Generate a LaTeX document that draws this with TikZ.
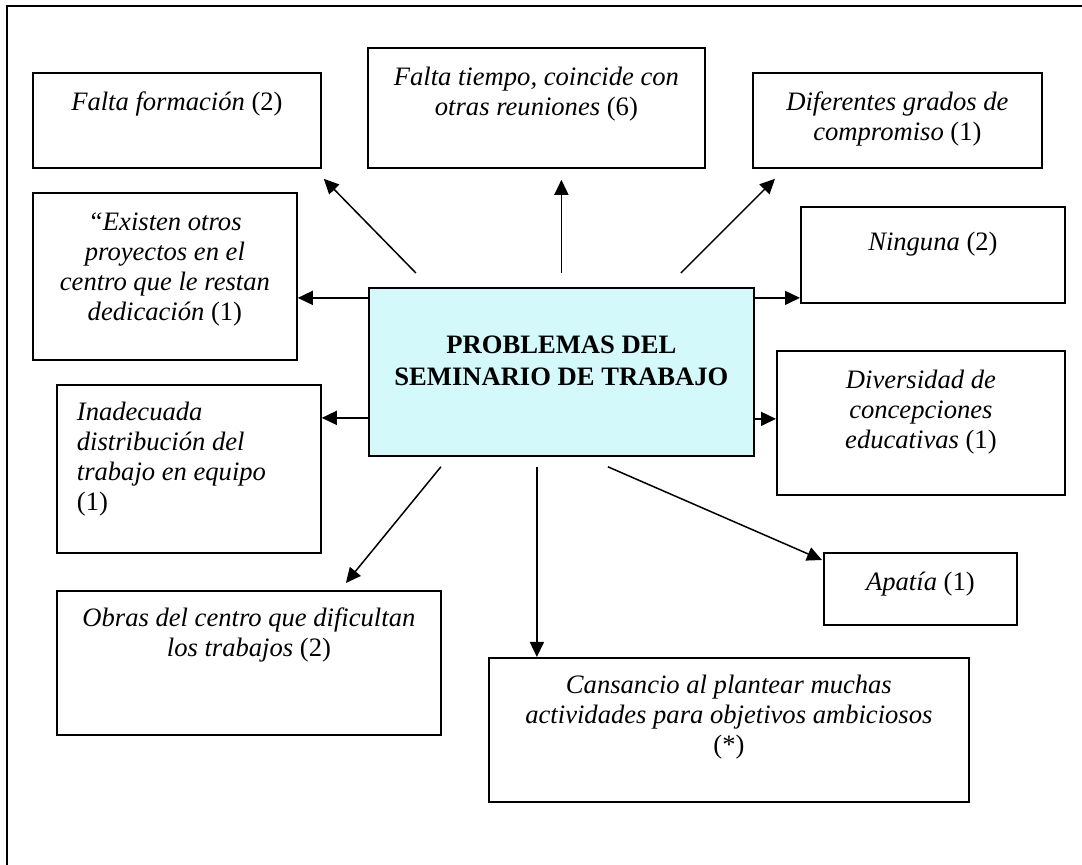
\documentclass[tikz,border=0pt]{standalone}
\usepackage{fontspec}
\setmainfont{Liberation Serif}
\usetikzlibrary{arrows.meta,calc}
\definecolor{hubfill}{RGB}{212,249,251}
\newcommand\bxt[4]{\parbox[t][#2][t]{#1}{\centering\rule{0pt}{#3}#4}}
\newcommand\bxl[4]{\parbox[t][#2][t]{#1}{\raggedright\leftskip=10pt\relax\rule{0pt}{#3}#4}}
\tikzset{
  box/.style={draw=black, line width=0.9pt, inner sep=0pt, anchor=north west, fill=white,
              font=\fontsize{13.3}{15}\selectfont},
  hub/.style={box, fill=hubfill, font=\fontsize{13.3}{16}\selectfont\bfseries},
  arr/.style={line width=0.75pt, -{Triangle[length=7.5pt,width=7pt]}},
  frame/.style={line width=1pt}
}
\begin{document}
\begin{tikzpicture}[x=0.5pt,y=-0.5pt]
\useasboundingbox (0,0) rectangle (1082,865);
% page frame
\coordinate (fb) at (7,865);
\coordinate (ftl) at (7,6);
\coordinate (fr) at (1082,6);
\draw[frame] (fb) -- (ftl) -- (fr);

% boxes
\node[box] (ff) at (32,72)  {\bxt{144pt}{47.5pt}{19pt}{\textit{Falta formación} (2)}};
\node[box] (ft) at (367,47) {\bxt{168.5pt}{60pt}{19pt}{\textit{Falta tiempo, coincide con}\\ \textit{otras reuniones} (6)}};
\node[box] (dg) at (752,72) {\bxt{144.5pt}{47.5pt}{19pt}{\textit{Diferentes grados de}\\ \textit{compromiso} (1)}};
\node[box] (ex) at (32,192) {\bxt{132pt}{83.5pt}{19pt}{\textit{“Existen otros}\\ \textit{proyectos en el}\\ \textit{centro que le restan}\\ \textit{dedicación} (1)}};
\node[box] (ni) at (800,206) {\bxt{132pt}{48pt}{22pt}{\textit{Ninguna} (2)}};
\node[hub] (c) at (368,287) {\bxt{192.5pt}{84pt}{33pt}{PROBLEMAS DEL\\ SEMINARIO DE TRABAJO}};
\node[box] (in) at (56,384) {\bxl{132pt}{84pt}{18pt}{\textit{Inadecuada}\\ \textit{distribución del}\\ \textit{trabajo en equipo}\\ (1)}};
\node[box] (dv) at (776,350) {\bxt{144pt}{72pt}{19pt}{\textit{Diversidad de}\\ \textit{concepciones}\\ \textit{educativas} (1)}};
\node[box] (ap) at (823,552) {\bxt{96.5pt}{36pt}{19pt}{\textit{Apatía} (1)}};
\node[box] (ob) at (56,590) {\bxt{192pt}{72pt}{18pt}{\textit{Obras del centro que dificultan}\\ \textit{los trabajos} (2)}};
\node[box] (ca) at (488,657) {\bxt{240pt}{72pt}{18pt}{\textit{Cansancio al plantear muchas}\\ \textit{actividades para objetivos ambiciosos}\\ (*)}};

% connectors
\draw[arr] ([shift={(-72.75pt,7pt)}]c.north) -- ([shift={(1pt,-5pt)}]ff.south east);
\draw[arr] ([yshift=7pt]c.north) -- ([yshift=-5.5pt]c.north |- ft.south);
\draw[arr] ([shift={(59.75pt,7pt)}]c.north) -- ([shift={(11.5pt,-5pt)}]dg.south west);
\draw[arr] ([yshift=37pt]c.west) -- ([yshift=37pt]c.west -| ex.east);
\draw[arr] ([yshift=37pt]c.east) -- ([yshift=37pt]c.east -| ni.west);
\draw[arr] ([yshift=-23pt]c.west) -- ([yshift=-23pt]c.west -| in.east);
\draw[arr] ([yshift=-23.5pt]c.east) -- ([yshift=-23.5pt]c.east -| dv.west);
\draw[arr] ([shift={(-60.25pt,-5pt)}]c.south) -- ([shift={(48.5pt,3.5pt)}]ob.north);
\draw[arr] ([shift={(-12.25pt,-5pt)}]c.south) -- ([xshift=-12.25pt]c.south |- ca.north);
\draw[arr] ([shift={(23.25pt,-5pt)}]c.south) -- ([shift={(-0.5pt,-4pt)}]ap.north west);
\end{tikzpicture}
\end{document}
